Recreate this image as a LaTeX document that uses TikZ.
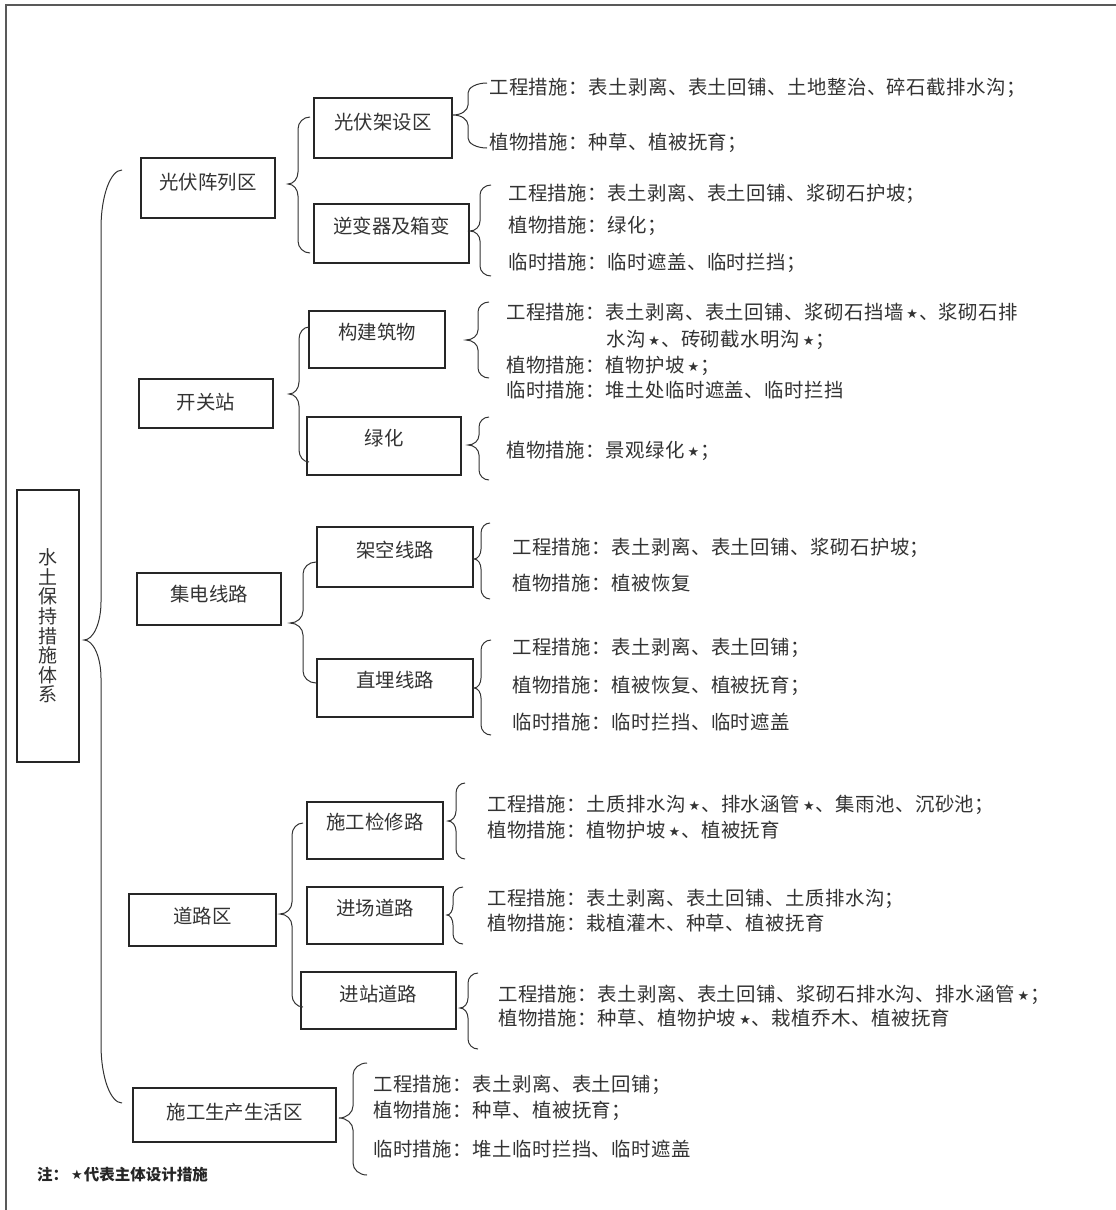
\documentclass[tikz,border=0pt]{standalone}
\usepackage{fontspec}
\newfontfamily\cjk[LetterSpace=2.5]{Noto Sans CJK SC}
\newfontfamily\cjkbox{Noto Sans CJK SC}
\newfontfamily\dejavu{DejaVu Sans}
\newcommand\xing{\hspace{3pt}\raisebox{0.5pt}{\dejavu\fontsize{13}{13}\selectfont ★}\hspace{1pt}}
% curly brace: #1 xe, #2 ytop, #3 ybot, #4 xspine, #5 xtip, #6 ytip, #7 end radius, #8 tip radius
\newcommand\cbrace[8]{%
  \draw[bracel] (#1,#2) .. controls ({#4+0.45*(#1-#4)},#2) and (#4,{#2+0.45*#7}) .. (#4,{#2+#7})
   -- (#4,{#6-#8}) .. controls (#4,{#6-0.45*#8}) and ({#5+0.55*(#4-#5)},#6) .. (#5,#6)
   .. controls ({#5+0.55*(#4-#5)},#6) and (#4,{#6+0.45*#8}) .. (#4,{#6+#8})
   -- (#4,{#3-#7}) .. controls (#4,{#3-0.45*#7}) and ({#4+0.45*(#1-#4)},#3) .. (#1,#3);}
\begin{document}
\begin{tikzpicture}[x=1pt,y=-1pt,
  font=\cjk\fontsize{19.4}{19.4}\selectfont,
  txt/.style={anchor=west, inner sep=0pt, text=black!80, text height=16.5pt, text depth=2.5pt},
  box/.style={draw=black!85, line width=1.1pt, inner sep=0pt, text=black!80},
  lbox/.style={box, text height=16.5pt, font=\cjkbox\fontsize{19.4}{19.4}\selectfont},
  bracel/.style={draw=black!80, line width=1pt},
  framel/.style={draw=black!65, line width=1.5pt}]
\useasboundingbox (0,0) rectangle (1116,1210);
\fill[white] (0,0) rectangle (1116,1210);
\draw[framel] (6,1210) -- (6,5) -- (1116,5);

% root
\node[box, minimum width=62pt, minimum height=272pt, align=center,
      font=\cjkbox\fontsize{19}{19.6}\selectfont] (root) at (48,626) {水\\土\\保\\持\\措\\施\\体\\系};

% level 1
\node[lbox, minimum width=134pt, minimum height=60pt, text depth=14.5pt] (pv) at (208,188) {光伏阵列区};
\node[lbox, minimum width=134pt, minimum height=49pt, text depth=4.5pt] (kg) at (206,403.5) {开关站};
\node[lbox, minimum width=144pt, minimum height=52pt, text depth=12.5pt] (jd) at (209,599) {集电线路};
\node[lbox, minimum width=147pt, minimum height=52pt, text depth=10.5pt] (dl) at (202.5,920) {道路区};
\node[lbox, minimum width=203pt, minimum height=54pt, text depth=8.5pt] (sg) at (234.5,1115) {施工生产生活区};

% level 2
\node[lbox, minimum width=138pt, minimum height=60pt, text depth=14.5pt] (jsq) at (383,128) {光伏架设区};
\node[lbox, minimum width=155pt, minimum height=59pt, text depth=16.5pt] (nbq) at (391.5,233.5) {逆变器及箱变};
\node[lbox, minimum width=136pt, minimum height=57pt, text depth=17.5pt] (gjw) at (377,339.5) {构建筑物};
\node[lbox, minimum width=154pt, minimum height=58pt, text depth=18.5pt] (lh) at (384,446) {绿化};
\node[lbox, minimum width=156pt, minimum height=60pt, text depth=16.5pt] (jk) at (395,557) {架空线路};
\node[lbox, minimum width=156pt, minimum height=58pt, text depth=18.5pt] (zm) at (395,688) {直埋线路};
\node[lbox, minimum width=136pt, minimum height=57pt, text depth=18.5pt] (sgjx) at (375,830.5) {施工检修路};
\node[lbox, minimum width=136pt, minimum height=57pt, text depth=17.5pt] (jc) at (375,915.5) {进场道路};
\node[lbox, minimum width=155pt, minimum height=57pt, text depth=15.5pt] (jz) at (378.5,1000.5) {进站道路};

% braces
\cbrace{122}{170}{1103}{101}{84}{640}{58}{38}
\cbrace{310}{117}{253}{298}{288}{184}{12}{12}
\cbrace{309}{327}{462}{299}{289}{394}{12}{12}
\cbrace{316}{562}{683}{303}{290}{623}{12}{12}
\cbrace{303}{823}{1007}{292}{280}{914}{12}{12}
\cbrace{487}{83}{148}{468}{453}{115}{10}{10}
\cbrace{491}{185}{276}{480}{470}{231}{10}{10}
\cbrace{489}{302}{378}{478}{466}{340}{10}{10}
\cbrace{489}{417}{480}{479}{468}{445}{10}{10}
\cbrace{490}{523}{599}{481}{474}{559}{10}{10}
\cbrace{491}{640}{735}{481}{474}{688}{10}{10}
\cbrace{465}{783}{859}{456}{448}{821}{10}{10}
\cbrace{463}{887}{944}{453}{447}{915}{10}{10}
\cbrace{478}{973}{1049}{468}{460}{1008}{10}{10}
\cbrace{367}{1063}{1175}{353}{339}{1118}{12}{12}

% texts
\node[txt] (t1) at (489,87) {工程措施：表土剥离、表土回铺、土地整治、碎石截排水沟；};
\node[txt] (t2) at (489,142) {植物措施：种草、植被抚育；};

\node[txt] (t3) at (508,193) {工程措施：表土剥离、表土回铺、浆砌石护坡；};
\node[txt] (t4) at (508,225) {植物措施：绿化；};
\node[txt] (t5) at (508,262) {临时措施：临时遮盖、临时拦挡；};

\node[txt] (t6) at (506,312) {工程措施：表土剥离、表土回铺、浆砌石挡墙\xing 、浆砌石排};
\node[txt] (t7) at (606,339) {水沟\xing 、砖砌截水明沟\xing ；};
\node[txt] (t8) at (506,365) {植物措施：植物护坡\xing ；};
\node[txt] (t9) at (506,390) {临时措施：堆土处临时遮盖、临时拦挡};

\node[txt] (t10) at (506,450) {植物措施：景观绿化\xing ；};

\node[txt] (t11) at (512,547) {工程措施：表土剥离、表土回铺、浆砌石护坡；};
\node[txt] (t12) at (512,583) {植物措施：植被恢复};

\node[txt] (t13) at (512,647) {工程措施：表土剥离、表土回铺；};
\node[txt] (t14) at (512,685) {植物措施：植被恢复、植被抚育；};
\node[txt] (t15) at (512,722) {临时措施：临时拦挡、临时遮盖};

\node[txt] (t16) at (487,804) {工程措施：土质排水沟\xing 、排水涵管\xing 、集雨池、沉砂池；};
\node[txt] (t17) at (487,830) {植物措施：植物护坡\xing 、植被抚育};

\node[txt] (t18) at (487,898) {工程措施：表土剥离、表土回铺、土质排水沟；};
\node[txt] (t19) at (487,923) {植物措施：栽植灌木、种草、植被抚育};

\node[txt] (t20) at (498,994) {工程措施：表土剥离、表土回铺、浆砌石排水沟、排水涵管\xing ；};
\node[txt] (t21) at (498,1018) {植物措施：种草、植物护坡\xing 、栽植乔木、植被抚育};

\node[txt] (t22) at (373,1084) {工程措施：表土剥离、表土回铺；};
\node[txt] (t23) at (373,1110) {植物措施：种草、植被抚育；};
\node[txt] (t24) at (373,1149) {临时措施：堆土临时拦挡、临时遮盖};

\node[txt, font=\cjkbox\bfseries\fontsize{15.5}{15.5}\selectfont, text=black!85] (note) at (37,1173) {注：\xing 代表主体设计措施};
\end{tikzpicture}
\end{document}
